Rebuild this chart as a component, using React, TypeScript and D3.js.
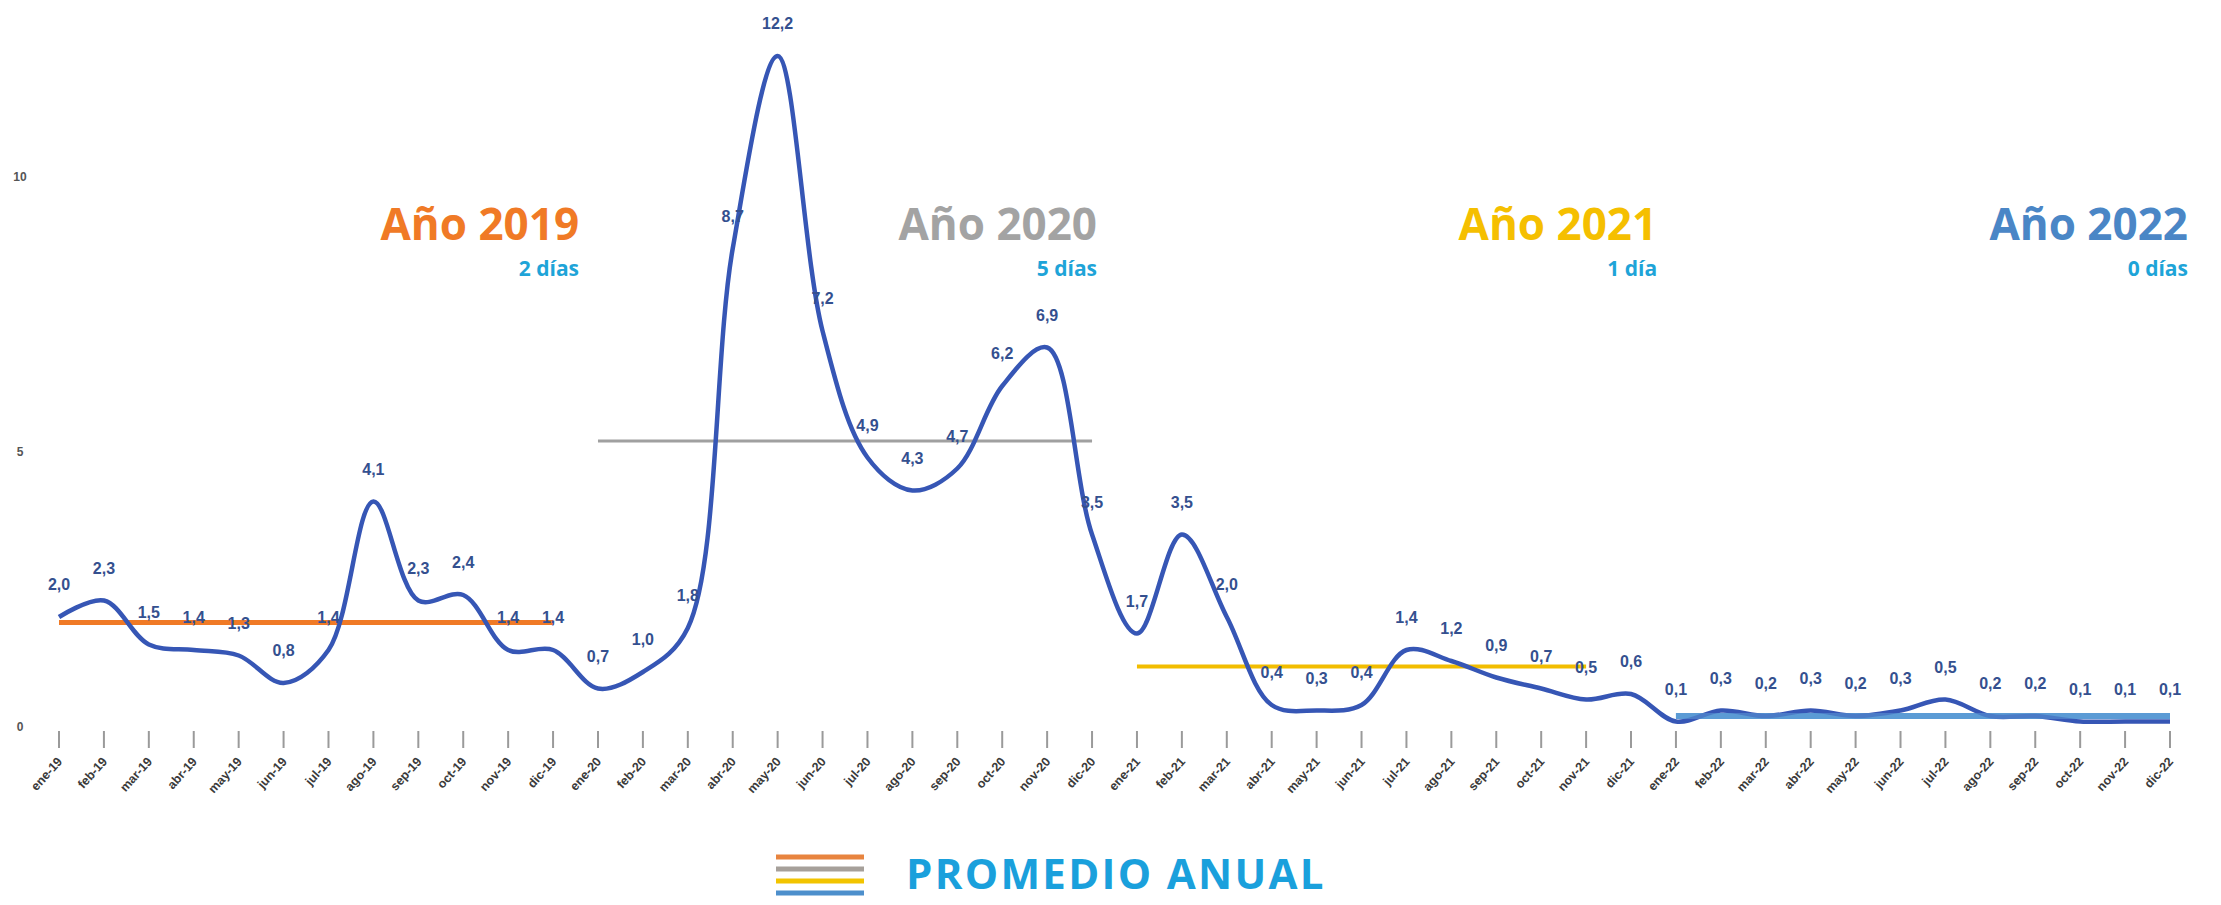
import React from "react";
import * as d3 from "d3";

const monthNames = ["ene", "feb", "mar", "abr", "may", "jun", "jul", "ago", "sep", "oct", "nov", "dic"];
const years = ["19", "20", "21", "22"];
const categories = years.flatMap((y) => monthNames.map((m) => `${m}-${y}`));

const values2019 = [2.0, 2.3, 1.5, 1.4, 1.3, 0.8, 1.4, 4.1, 2.3, 2.4, 1.4, 1.4];
const values2020 = [0.7, 1.0, 1.8, 8.7, 12.2, 7.2, 4.9, 4.3, 4.7, 6.2, 6.9, 3.5];
const values2021 = [1.7, 3.5, 2.0, 0.4, 0.3, 0.4, 1.4, 1.2, 0.9, 0.7, 0.5, 0.6];
const values2022 = [0.1, 0.3, 0.2, 0.3, 0.2, 0.3, 0.5, 0.2, 0.2, 0.1, 0.1, 0.1];
const allValues = [...values2019, ...values2020, ...values2021, ...values2022];

const yTicks = [0, 5, 10];

const yearTitles = ["Año 2019", "Año 2020", "Año 2021", "Año 2022"];
const yearDays = ["2 días", "5 días", "1 día", "0 días"];
const yearColors = ["#f07a26", "#a3a3a3", "#f5bf00", "#4a86c6"];
const avgValues = [1.9, 5.2, 1.1, 0.2];
const avgStart = ["ene-19", "ene-20", "ene-21", "ene-22"];
const avgEnd = ["dic-19", "dic-20", "nov-21", "dic-22"];
const avgColors = ["#f07a26", "#a0a0a0", "#f2bd00", "#5b9bd5"];
const avgWidths = [5, 3, 4, 6];
const titleAnchor = ["dic-19", "dic-20", "oct-21", "dic-22"];
const legendColors = ["#e8843f", "#a6a09a", "#f2c400", "#4d8fcc"];
const legendText = "PROMEDIO ANUAL";

const W = 2221;
const H = 905;

export default function App() {
  const x = d3.scalePoint<string>().domain(categories).range([59, 2170]);
  const y = d3.scaleLinear().domain([0, 10]).range([727, 177]);
  const line = d3
    .line<number>()
    .x((_, i) => x(categories[i]) as number)
    .y((d) => y(d))
    .curve(d3.curveCatmullRom.alpha(0.5));

  const titleOffsets = [26, 5, 116, 18];

  return (
    <svg width={W} height={H} style={{ position: "absolute", left: 0, top: 0, background: "#fff" }}>
      {yTicks.map((t) => (
        <text key={t} x={20} y={y(t) + 4} textAnchor="middle" fontSize={12} fontWeight={700}
          fontFamily="Liberation Sans, Arial, sans-serif" fill="#555">{t}</text>
      ))}
      {categories.map((c) => {
        const cx = x(c) as number;
        return (
          <g key={c}>
            <line x1={cx} x2={cx} y1={731} y2={748} stroke="#9a9a9a" strokeWidth={2} />
            <text transform={`translate(${cx + 4},${762}) rotate(-48)`} textAnchor="end" fontSize={12.5}
              fontWeight={700} fontFamily="Liberation Sans Narrow, Liberation Sans, Arial, sans-serif" fill="#3a3a3a">{c}</text>
          </g>
        );
      })}
      {avgValues.map((v, i) => (
        <line key={i} x1={x(avgStart[i]) as number} x2={x(avgEnd[i]) as number} y1={y(v)} y2={y(v)}
          stroke={avgColors[i]} strokeWidth={avgWidths[i]} />
      ))}
      <path d={line(allValues) || ""} fill="none" stroke="#3656b5" strokeWidth={4.5} strokeLinejoin="round" />
      <line x1={x("ene-22") as number} x2={x("dic-22") as number} y1={y(avgValues[3])} y2={y(avgValues[3])}
        stroke="#5b9bd5" strokeOpacity={0.55} strokeWidth={6} />
      {allValues.map((v, i) => (
        <text key={i} x={x(categories[i]) as number} y={y(v) - 27} textAnchor="middle" fontSize={16}
          fontWeight={700} fontFamily="Liberation Sans Narrow, Liberation Sans, Arial, sans-serif" fill="#34508f">
          {v.toFixed(1).replace(".", ",")}
        </text>
      ))}
      {yearTitles.map((t, i) => {
        const ax = (x(titleAnchor[i]) as number) + titleOffsets[i];
        return (
          <g key={t}>
            <text x={ax} y={240} textAnchor="end" fontSize={44} fontWeight={700}
              fontFamily="Open Sans, sans-serif" fill={yearColors[i]}>{t}</text>
            <text x={ax} y={276} textAnchor="end" fontSize={21} fontWeight={700}
              fontFamily="Open Sans, sans-serif" fill="#1ea4d8">{yearDays[i]}</text>
          </g>
        );
      })}
      {legendColors.map((c, i) => (
        <line key={c} x1={776} x2={864} y1={857 + i * 12} y2={857 + i * 12} stroke={c} strokeWidth={5} />
      ))}
      <text x={906} y={889} fontSize={42} fontWeight={700} letterSpacing={2.3} fontFamily="Open Sans, sans-serif" fill="#1aa0dc">
        {legendText}
      </text>
    </svg>
  );
}
